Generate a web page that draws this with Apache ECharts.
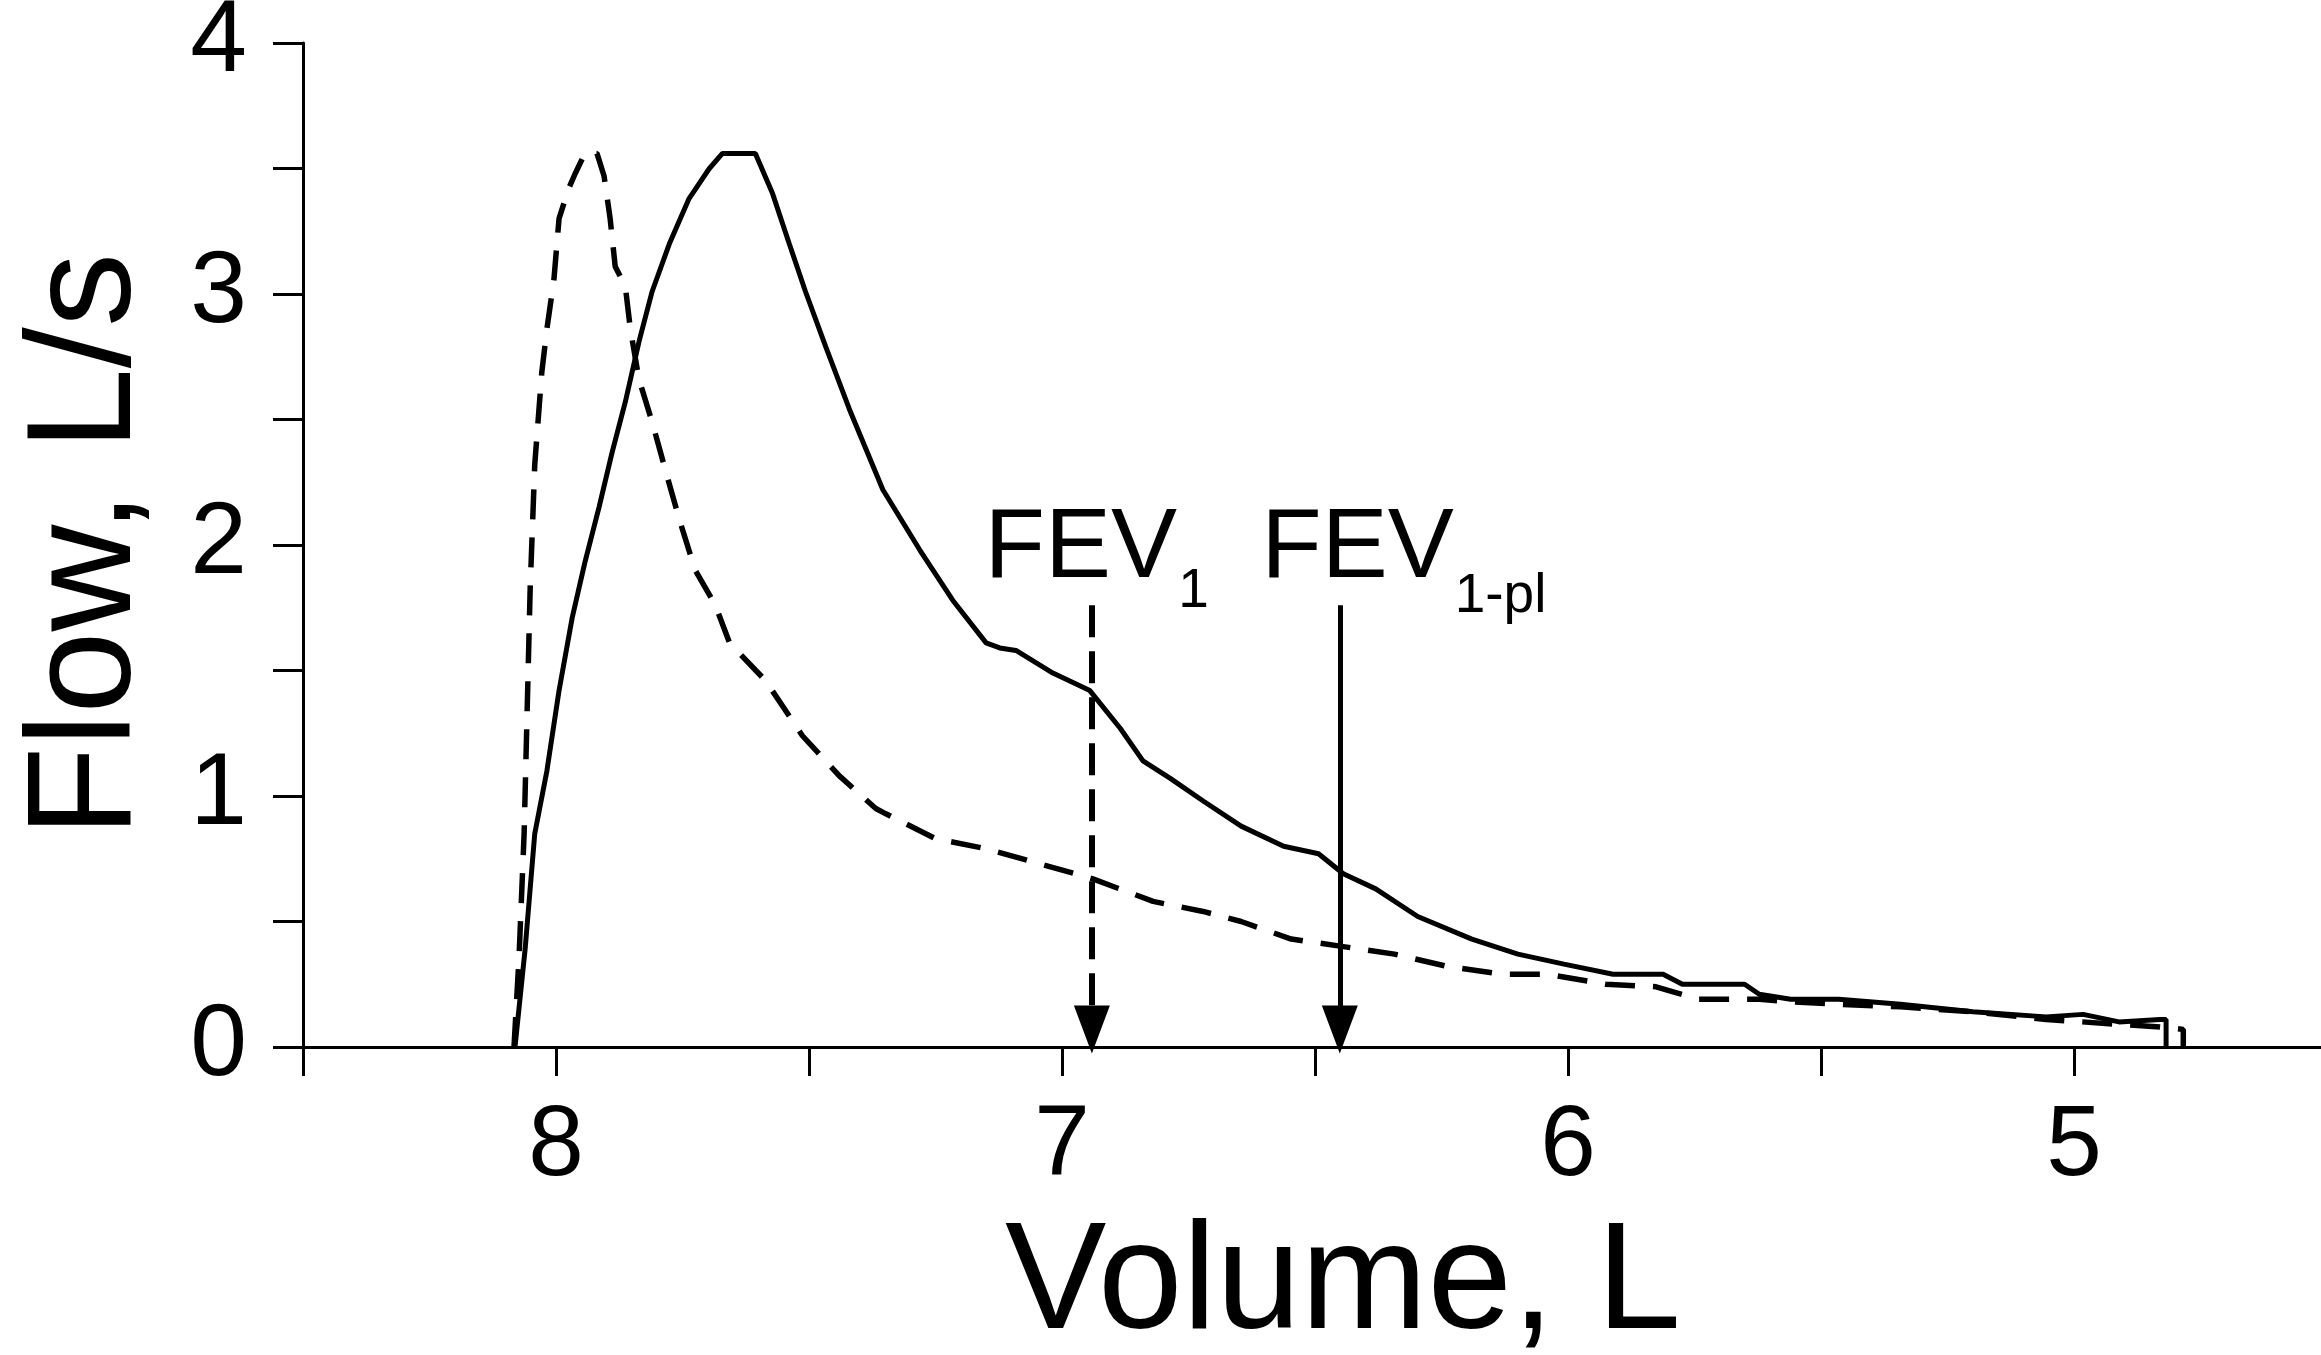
<!DOCTYPE html>
<html>
<head>
<meta charset="utf-8">
<title>Flow-volume loops</title>
<script src="https://cdn.jsdelivr.net/npm/echarts@6/dist/echarts.min.js"></script>
<style>
  html, body { margin: 0; padding: 0; background: #fff; }
  #chart { width: 2321px; height: 1355px; }
</style>
</head>
<body>
<div id="chart"></div>
<script>
// solid curve
var solidVolume = [8.081, 8.061, 8.042, 8.018, 7.994, 7.968, 7.943, 7.915, 7.889, 7.863, 7.836, 7.810, 7.776, 7.737, 7.697, 7.671,
  7.606, 7.572, 7.539, 7.507, 7.467, 7.420, 7.354, 7.281, 7.216, 7.150, 7.123, 7.091, 7.018, 6.945, 6.885, 6.840, 6.786, 6.721,
  6.646, 6.562, 6.493, 6.444, 6.380, 6.297, 6.190, 6.099, 6.008, 5.911, 5.812, 5.774, 5.651, 5.622, 5.560, 5.465, 5.343, 5.200,
  5.055, 4.982, 4.911, 4.830, 4.818, 4.818];
var solidFlow = [0, 0.39, 0.85, 1.10, 1.42, 1.71, 1.93, 2.15, 2.37, 2.57, 2.81, 3.01, 3.20, 3.38, 3.50, 3.56,
  3.56, 3.40, 3.20, 3.01, 2.79, 2.54, 2.22, 1.98, 1.78, 1.61, 1.59, 1.58, 1.49, 1.42, 1.27, 1.14, 1.07, 0.98,
  0.88, 0.80, 0.77, 0.69, 0.63, 0.52, 0.43, 0.37, 0.33, 0.29, 0.29, 0.25, 0.25, 0.21, 0.19, 0.19, 0.17, 0.14,
  0.12, 0.13, 0.10, 0.11, 0.11, 0];

// dashed curve
var dashedVolume = [8.083, 8.073, 8.063, 8.057, 8.051, 8.042, 8.028, 8.018, 8.004, 7.994, 7.975, 7.962, 7.943, 7.919, 7.905,
  7.893, 7.883, 7.863, 7.853, 7.836, 7.810, 7.784, 7.756, 7.725, 7.685, 7.657, 7.586, 7.513, 7.440, 7.368, 7.349, 7.250,
  7.150, 7.044, 6.939, 6.820, 6.721, 6.646, 6.547, 6.444, 6.343, 6.236, 6.129, 6.040, 5.925, 5.826, 5.743, 5.622, 5.560,
  5.465, 5.343, 5.200, 5.055, 4.911, 4.830, 4.784, 4.784];
var dashedFlow = [0, 0.36, 0.85, 1.34, 1.83, 2.32, 2.69, 2.86, 3.06, 3.30, 3.42, 3.48, 3.56, 3.56, 3.47,
  3.30, 3.11, 3.03, 2.86, 2.66, 2.49, 2.30, 2.10, 1.90, 1.76, 1.61, 1.46, 1.24, 1.08, 0.95, 0.93, 0.83,
  0.79, 0.73, 0.67, 0.58, 0.54, 0.50, 0.43, 0.40, 0.37, 0.32, 0.29, 0.29, 0.25, 0.24, 0.19, 0.19, 0.18,
  0.17, 0.16, 0.14, 0.11, 0.09, 0.08, 0.07, 0];

// FEV1 markers: volume, top and tip of the arrow
var fev1Volume = 6.941;
var fev1plVolume = 6.451;
var arrowTop = 1.76;
var arrowTip = 0.07;

// annotation texts
var noteText = ['FEV', '1', 'FEV', '1-pl'];
var noteVolume = [7.154, 6.771, 6.607, 6.225];
var noteFlow = [1.98, 1.815, 1.98, 1.795];

var FONT = "'Liberation Sans', Arial, sans-serif";

function pairs(xs, ys) {
  return xs.map(function (x, i) { return [x, ys[i]]; });
}
function intOnly(v) {
  return Math.abs(v - Math.round(v)) < 1e-9 ? String(Math.round(v)) : '';
}

var arrowHead = [36, 48];

var myChart = echarts.init(document.getElementById('chart'));
myChart.setOption({
  animation: false,
  backgroundColor: '#fff',
  textStyle: { fontFamily: FONT, color: '#000' },
  grid: {
    left: 303,
    right: -6,
    top: 43,
    bottom: 308,
    containLabel: false,
    outerBoundsMode: 'none'
  },
  xAxis: {
    type: 'value',
    inverse: true,
    min: 4.5,
    max: 8.5,
    interval: 0.5,
    name: 'Volume, L',
    nameLocation: 'middle',
    nameGap: 163,
    nameTextStyle: { fontSize: 152, color: '#000', fontFamily: FONT, padding: [0, 0, 0, 56] },
    axisLine: { show: true, lineStyle: { color: '#000', width: 3 } },
    axisTick: { show: true, length: 29, lineStyle: { color: '#000', width: 3 } },
    axisLabel: { fontSize: 100, color: '#000', fontFamily: FONT, margin: 50, formatter: intOnly },
    splitLine: { show: false }
  },
  yAxis: {
    type: 'value',
    min: 0,
    max: 4,
    interval: 0.5,
    name: 'Flow, L/s',
    nameLocation: 'middle',
    nameGap: 140,
    nameTextStyle: { fontSize: 148, color: '#000', fontFamily: FONT },
    axisLine: { show: true, lineStyle: { color: '#000', width: 3 } },
    axisTick: { show: true, length: 30, lineStyle: { color: '#000', width: 3 } },
    axisLabel: { fontSize: 102, color: '#000', fontFamily: FONT, margin: 56, formatter: intOnly, padding: [10, 0, 0, 0] },
    splitLine: { show: false }
  },
  series: [
    {
      name: 'solid',
      type: 'line',
      data: pairs(solidVolume, solidFlow),
      showSymbol: false,
      silent: true,
      lineStyle: { color: '#000', width: 5 },
      markLine: {
        silent: true,
        symbol: ['none', 'triangle'],
        symbolSize: arrowHead,
        label: { show: false },
        lineStyle: { color: '#000', width: 5, type: 'solid' },
        data: [[{ coord: [fev1plVolume, arrowTop] }, { coord: [fev1plVolume, arrowTip] }]]
      }
    },
    {
      name: 'dashed',
      type: 'line',
      data: pairs(dashedVolume, dashedFlow),
      showSymbol: false,
      silent: true,
      lineStyle: { color: '#000', width: 5.5, type: [30, 18] },
      markLine: {
        silent: true,
        symbol: ['none', 'triangle'],
        symbolSize: arrowHead,
        label: { show: false },
        lineStyle: { color: '#000', width: 6, type: [32, 14] },
        data: [[{ coord: [fev1Volume, arrowTop] }, { coord: [fev1Volume, arrowTip] }]]
      }
    },
    {
      name: 'notes',
      type: 'scatter',
      silent: true,
      symbolSize: 1,
      itemStyle: { color: '#000', opacity: 0 },
      label: {
        show: true,
        position: 'right',
        distance: 0,
        align: 'left',
        verticalAlign: 'middle',
        color: '#000',
        opacity: 1,
        textBorderWidth: 0,
        fontFamily: FONT
      },
      data: noteText.map(function (t, i) {
        return {
          value: [noteVolume[i], noteFlow[i]],
          label: { formatter: t, color: '#000', fontFamily: FONT, fontSize: t === 'FEV' ? 99 : 55 }
        };
      })
    }
  ]
});
</script>
</body>
</html>
